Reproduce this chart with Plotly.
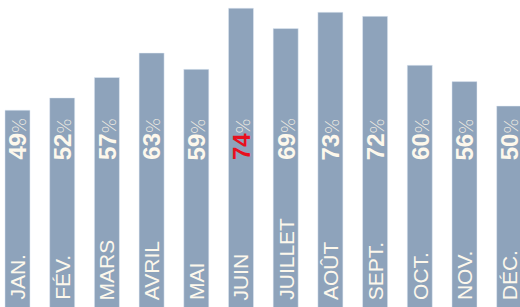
import plotly.graph_objects as go

months = ["JAN.", "FÉV.", "MARS", "AVRIL", "MAI", "JUIN", "JUILLET", "AOÛT", "SEPT.", "OCT.", "NOV.", "DÉC."]
values = [49, 52, 57, 63, 59, 74, 69, 73, 72, 60, 56, 50]
highlight = "JUIN"

bar_color = "#8ea3bb"
text_color = "#fdf8ec"
red = "#e8101e"
font = "Liberation Sans, Arial, sans-serif"

x = list(range(len(months)))
fig = go.Figure(go.Bar(x=x, y=values, marker_color=bar_color, width=0.56,
                       hoverinfo="skip"))

for i, (m, v) in enumerate(zip(months, values)):
    col = red if m == highlight else text_color
    fig.add_annotation(
        x=i, xref="x", y=0.472, yref="paper",
        text=(f"<b>{v}</b><span style='font-family:Lato, sans-serif;font-weight:300;"
              f"font-size:19px;color:#f3eee4'>%</span>"),
        textangle=-90, showarrow=False, xanchor="center", yanchor="bottom",
        font=dict(family=font, size=24, color=col),
    )
    fig.add_annotation(
        x=i, xref="x", y=0.016, yref="paper",
        text=m, textangle=-90, showarrow=False, xanchor="center", yanchor="bottom",
        font=dict(family=font, size=21, color=text_color),
    )

fig.update_layout(
    width=520, height=307, margin=dict(l=0, r=0, t=0, b=0),
    paper_bgcolor="white", plot_bgcolor="white", showlegend=False,
    xaxis=dict(range=[-0.3915, 11.242], visible=False),
    yaxis=dict(range=[0.74, 76], visible=False),
)
fig.write_html("out.html", config={"displayModeBar": False},
               post_script="document.body.style.margin='0';document.body.style.overflow='hidden';")
